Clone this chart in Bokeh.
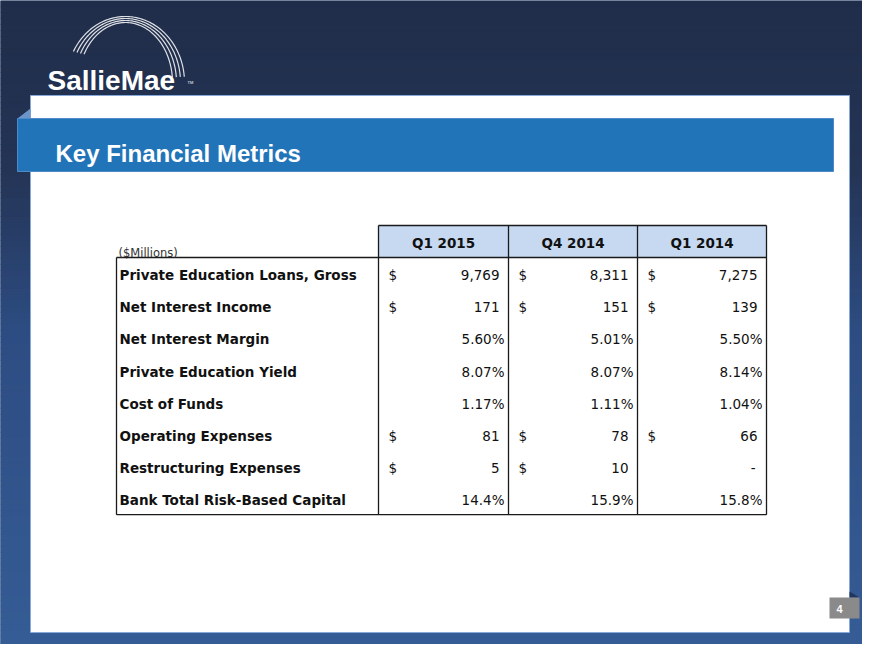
import numpy as np
from bokeh.plotting import figure
from bokeh.models import Range1d, ColumnDataSource
from bokeh.core.properties import value
from bokeh.embed import file_html
from bokeh.resources import INLINE

# ---------------- data ----------------
title = "Key Financial Metrics"
unit_label = "($Millions)"
columns = ["Q1 2015", "Q4 2014", "Q1 2014"]
row_labels = [
    "Private Education Loans, Gross",
    "Net Interest Income",
    "Net Interest Margin",
    "Private Education Yield",
    "Cost of Funds",
    "Operating Expenses",
    "Restructuring Expenses",
    "Bank Total Risk-Based Capital",
]
q1_2015 = ["9,769", "171", "5.60%", "8.07%", "1.17%", "81", "5", "14.4%"]
q4_2014 = ["8,311", "151", "5.01%", "8.07%", "1.11%", "78", "10", "15.9%"]
q1_2014 = ["7,275", "139", "5.50%", "8.14%", "1.04%", "66", "-", "15.8%"]
q1_2015_dollar = [True, True, False, False, False, True, True, False]
q4_2014_dollar = [True, True, False, False, False, True, True, False]
q1_2014_dollar = [True, True, False, False, False, True, False, False]
page_number = "4"

# ---------------- layout (page pixel space) ----------------
W, H = 862, 644
p = figure(width=W, height=H, output_backend="svg", toolbar_location=None,
           x_range=Range1d(0, W), y_range=Range1d(H, 0),
           x_axis_type=None, y_axis_type=None, min_border=0)
p.outline_line_color = None
p.xgrid.visible = False
p.ygrid.visible = False
p.background_fill_color = "#2a4676"
p.border_fill_color = "#2a4676"

# background gradient
stops_y = [0, 170, 330, 660]
stops_c = [(0x20, 0x2d, 0x4a), (0x24, 0x34, 0x55), (0x2d, 0x4c, 0x82), (0x36, 0x5d, 0x96)]
band_top, band_bot, band_col = [], [], []
for k in range(0, 662, 6):
    yc = k + 3
    for j in range(len(stops_y) - 1):
        if stops_y[j] <= yc <= stops_y[j + 1]:
            t = (yc - stops_y[j]) / (stops_y[j + 1] - stops_y[j])
            c = [int(round(a + (b - a) * t)) for a, b in zip(stops_c[j], stops_c[j + 1])]
            break
    else:
        c = list(stops_c[-1])
    band_top.append(k)
    band_bot.append(k + 6.5)
    band_col.append("#%02x%02x%02x" % tuple(c))
p.quad(left=-10, right=890, top=band_top, bottom=band_bot, fill_color=band_col, line_color=None)

# white panel
p.quad(left=30, right=849, top=95, bottom=632, fill_color="white", line_color="#86a9da", line_width=1)

# title bar with fold
p.patch(x=[17, 30, 30], y=[118, 108, 118], fill_color="#6e95cb", line_color=None)
p.quad(left=17, right=833, top=118, bottom=171, fill_color="#2274b8", line_color="#4f8ac8", line_width=1)
p.text(x=[55], y=[153], text=[title], text_font=value("Liberation Sans"), text_font_style="bold",
       text_font_size="24px", text_color="white", text_baseline="alphabetic", text_align="left")

# logo
ang = np.linspace(np.radians(5), np.radians(152), 80)
arc_rx = [59, 55, 51, 47]
arc_ry = [66, 64, 62, 60]
for rx, ry in zip(arc_rx, arc_ry):
    p.line(x=125 + rx * np.cos(ang), y=82 - ry * np.sin(ang), line_color="white",
           line_width=1.2, line_alpha=0.85)
p.text(x=[47], y=[80], text=["SallieMae"],
       text_font=value("Liberation Sans"),
       text_font_style="bold", text_font_size="28px", text_color="white",
       text_baseline="alphabetic", text_align="left")
p.text(x=[187], y=[82], text=["TM"], text_font=value("Liberation Sans"), text_font_size="4px",
       text_color="white", text_baseline="alphabetic")

# ---------------- table ----------------
tab_left = 116
col_edges = [378, 508, 637, 766]
head_top, head_bot = 225, 257
row_h = 32.15
body_bot = head_bot + row_h * len(row_labels)
row_y = [head_bot + row_h * (i + 0.5) + 1.5 for i in range(len(row_labels))]

# header cells
p.quad(left=col_edges[:-1], right=col_edges[1:], top=head_top, bottom=head_bot,
       fill_color="#c6d9f1", line_color=None)
col_mid = [(a + b) / 2 for a, b in zip(col_edges[:-1], col_edges[1:])]
p.text(x=col_mid, y=[head_top + (head_bot - head_top) / 2 + 1] * 3, text=columns,
       text_font=value("DejaVu Sans"), text_font_style="bold", text_font_size="13.5px",
       text_color="#111111", text_align="center", text_baseline="middle")

# borders
lc = "#1a1a1a"
lw = 1.3
p.segment(x0=[col_edges[0], tab_left, tab_left, tab_left],
          y0=[head_top, head_bot, head_bot, body_bot],
          x1=[col_edges[-1], col_edges[-1], tab_left, col_edges[-1]],
          y1=[head_top, head_bot, body_bot, body_bot], line_color=lc, line_width=lw)
p.segment(x0=col_edges, y0=[head_top] * 4, x1=col_edges, y1=[body_bot] * 4,
          line_color=lc, line_width=lw)

p.text(x=[118], y=[252], text=[unit_label], text_font=value("DejaVu Sans"),
       text_font_size="11.5px", text_color="#333333", text_baseline="alphabetic")

# row labels
p.text(x=[119] * len(row_labels), y=row_y, text=row_labels, text_font=value("DejaVu Sans"),
       text_font_style="bold", text_font_size="13.5px", text_color="#111111",
       text_baseline="middle", text_align="left")

# values
for ci, (vals, dollars) in enumerate([(q1_2015, q1_2015_dollar), (q4_2014, q4_2014_dollar),
                                      (q1_2014, q1_2014_dollar)]):
    right = col_edges[ci + 1]
    xs = []
    for v in vals:
        if v.endswith("%"):
            xs.append(right - 4)
        elif v == "-":
            xs.append(right - 11)
        else:
            xs.append(right - 9)
    src = ColumnDataSource(dict(x=xs, y=row_y, t=vals))
    p.text(x="x", y="y", text="t", source=src, text_font=value("DejaVu Sans"),
           text_font_size="13.5px", text_color="#111111", text_align="right",
           text_baseline="middle")
    dy = [y for y, d in zip(row_y, dollars) if d]
    p.text(x=[col_edges[ci] + 10] * len(dy), y=dy, text=["$"] * len(dy),
           text_font=value("DejaVu Sans"), text_font_size="13.5px", text_color="#111111",
           text_align="left", text_baseline="middle")

# page number
p.patch(x=[849, 859, 849], y=[597, 597, 591], fill_color="#22365c", line_color=None)
p.quad(left=829, right=859, top=597, bottom=618, fill_color="#8a8a8a", line_color=None)
p.text(x=[839], y=[608], text=[page_number], text_font=value("Liberation Sans"),
       text_font_style="bold", text_font_size="11px", text_color="white",
       text_align="center", text_baseline="middle")

open("out.html", "w").write(file_html(p, INLINE))
